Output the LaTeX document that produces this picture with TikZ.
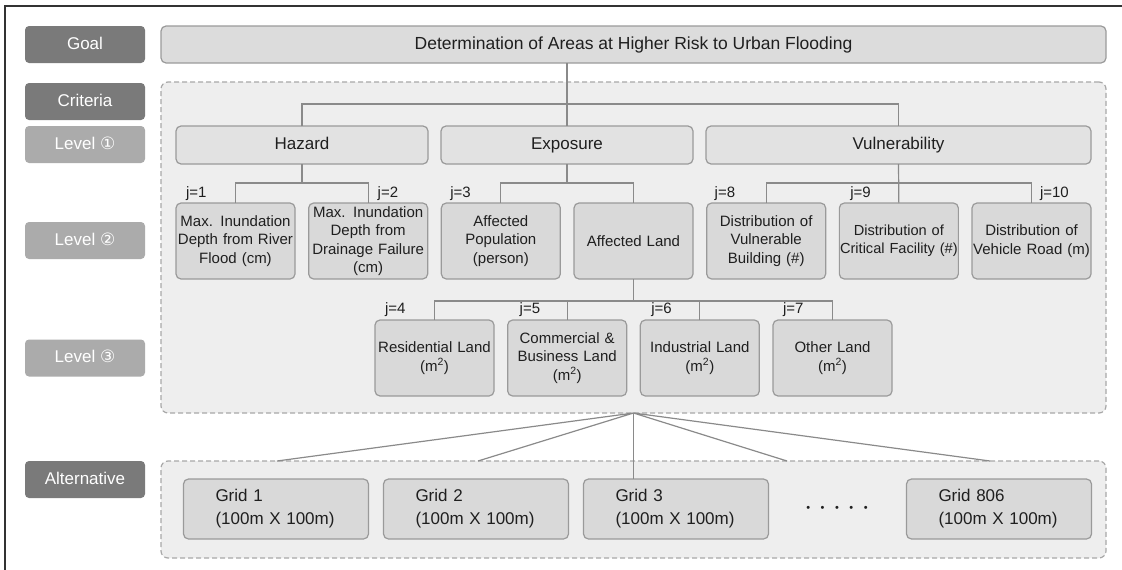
\documentclass[tikz,border=0pt]{standalone}
\usepackage{fontspec}
\setmainfont{Liberation Sans}
\newfontfamily\circfont{DejaVu Sans}
\usepackage{xcolor}
\definecolor{lab_dark}{HTML}{7A7A7A}
\definecolor{lab_light}{HTML}{ABABAB}
\definecolor{box_line}{HTML}{9A9A9A}
\definecolor{box_goal}{HTML}{DCDCDC}
\definecolor{box_mid}{HTML}{E2E2E2}
\definecolor{box_low}{HTML}{D9D9D9}
\definecolor{zone_fill}{HTML}{EEEEEE}
\definecolor{zone_line}{HTML}{A8A8A8}
\definecolor{link_gray}{HTML}{8A8A8A}
\usepackage{tikz}
\usetikzlibrary{positioning,calc}

\begin{document}
\begin{tikzpicture}[
        x=1pt,y=-1pt,
        node distance=13.67pt,
        every node/.style={text=black!88,outer sep=0pt},
        rowlab/.style={rounded corners=4pt,minimum width=120pt,minimum height=37pt,inner sep=0pt,text height=12.5pt,text depth=3.5pt,text=white,font=\fontsize{17}{20}\selectfont},
        darklab/.style={rowlab,fill=lab_dark},
        lightlab/.style={rowlab,fill=lab_light},
        zone/.style={draw=zone_line,fill=zone_fill,dash pattern=on 5pt off 3pt,line width=1.2pt,rounded corners=7pt,inner sep=0pt},
        goalbox/.style={draw=box_line,fill=box_goal,line width=1.2pt,rounded corners=5pt,minimum width=945pt,minimum height=37pt,inner sep=0pt,text height=12.5pt,text depth=3.5pt,font=\fontsize{17.5}{20}\selectfont},
        topbox/.style={draw=box_line,fill=box_mid,line width=1.2pt,rounded corners=5pt,minimum height=38pt,inner sep=0pt,text height=12.5pt,text depth=3.5pt,font=\fontsize{17}{20}\selectfont},
        subbox/.style={draw=box_line,fill=box_low,line width=1.2pt,rounded corners=5pt,text width=119pt,minimum height=76pt,inner sep=0pt,align=center,font=\fontsize{15}{18.3}\selectfont},
        gridbox/.style={draw=box_line,fill=box_low,line width=1.2pt,rounded corners=5pt,minimum height=60pt,text width=121pt,inner xsep=32pt,inner ysep=0pt,align=left,font=\fontsize{17}{23}\selectfont},
        jlab/.style={inner sep=0pt,anchor=base west,font=\fontsize{15}{18}\selectfont},
        conn/.style={draw=link_gray,line width=1.2pt}
    ]
    \useasboundingbox (0,0) rectangle (1122,570);
    % frame
    \draw[line width=2pt,black!80] (5,570) -- (5,6) -- (1122,6);

    % row labels
    \node[darklab] (goallab) at (85,44.5) {Goal};
    \node[darklab] (critlab) at (85,101.5) {Criteria};
    \node[lightlab] (lev1lab) at (85,144.5) {Level {\circfont ①}};
    \node[lightlab] (lev2lab) at (85,240.5) {Level {\circfont ②}};
    \node[lightlab] (lev3lab) at (85,358) {Level {\circfont ③}};
    \node[darklab] (altlab) at (85,479.5) {Alternative};

    % zones
    \node[zone,minimum width=945pt,minimum height=331pt] (crit) at (633.5,247.5) {};
    \node[zone,minimum width=945pt,minimum height=97pt] (alt) at (633.5,509.5) {};

    % goal and level 1
    \node[goalbox] (goal) at (633.5,44.5) {Determination of Areas at Higher Risk to Urban Flooding};
    \node[topbox,minimum width=252pt] (haz) at (302,145) {Hazard};
    \node[topbox,minimum width=252pt] (exp) [right=13pt of haz] {Exposure};
    \node[topbox,minimum width=385pt] (vul) [right=13pt of exp] {Vulnerability};

    % level 2
    \node[subbox] (b1) at (235.5,241) {Max. Inundation\\Depth from River\\Flood (cm)};
    \node[subbox] (b2) [right=of b1] {Max. Inundation\\Depth from\\Drainage Failure\\(cm)};
    \node[subbox] (b3) [right=of b2] {Affected\\Population\\(person)};
    \node[subbox] (b4) [right=of b3] {Affected Land};
    \node[subbox] (b5) [right=of b4] {Distribution of\\Vulnerable\\Building (\#)};
    \node[subbox,font=\fontsize{14.6}{18.3}\selectfont] (b6) [right=of b5] {Distribution of\\Critical Facility (\#)};
    \node[subbox] (b7) [right=of b6] {Distribution of\\Vehicle Road (m)};

    % level 3
    \node[subbox] (c1) at (434.5,358) {Residential Land\\(m\textsuperscript{2})};
    \node[subbox] (c2) [right=of c1] {Commercial \&\\Business Land\\(m\textsuperscript{2})};
    \node[subbox] (c3) [right=of c2] {Industrial Land\\(m\textsuperscript{2})};
    \node[subbox] (c4) [right=of c3] {Other Land\\(m\textsuperscript{2})};

    % j labels
    \node[jlab] (j1) at ([xshift=10pt,yshift=6pt]b1.north west) {j=1};
    \node[jlab] (j2) at ([xshift=69pt,yshift=6pt]b2.north west) {j=2};
    \node[jlab] (j3) at ([xshift=9pt,yshift=6pt]b3.north west) {j=3};
    \node[jlab] (j8) at ([xshift=8pt,yshift=6pt]b5.north west) {j=8};
    \node[jlab] (j9) at ([xshift=11pt,yshift=6pt]b6.north west) {j=9};
    \node[jlab] (j10) at ([xshift=68pt,yshift=6pt]b7.north west) {j=10};
    \node[jlab] (j4) at ([xshift=10pt,yshift=7pt]c1.north west) {j=4};
    \node[jlab] (j5) at ([xshift=12pt,yshift=7pt]c2.north west) {j=5};
    \node[jlab] (j6) at ([xshift=11pt,yshift=7pt]c3.north west) {j=6};
    \node[jlab] (j7) at ([xshift=10pt,yshift=7pt]c4.north west) {j=7};

    % alternatives
    \node[gridbox] (g1) at (276,509) {Grid 1\\(100m X 100m)};
    \node[gridbox] (g2) [right=15pt of g1] {Grid 2\\(100m X 100m)};
    \node[gridbox] (g3) [right=15pt of g2] {Grid 3\\(100m X 100m)};
    \node[gridbox] (g806) at (999,509) {Grid 806\\(100m X 100m)};
    \node[font=\fontsize{11}{12}\selectfont] (dots) at (837,509) {•\hspace{10.5pt}•\hspace{10.5pt}•\hspace{10.5pt}•\hspace{10.5pt}•};

    % connectors
    \draw[conn] (exp.north |- goal.south) -- (exp.north);
    \draw[conn] (haz.north) -- ++(0,-22) -| (vul.north);
    \draw[conn] (haz.south) -- ++(0,19) coordinate (hzj);
    \draw[conn] (b1.north) |- (hzj) -| (b2.north);
    \draw[conn] (exp.south) -- ++(0,19) coordinate (exj);
    \draw[conn] (b3.north) |- (exj) -| (b4.north);
    \draw[conn] (vul.south) -- (b6.north);
    \draw[conn] (b5.north) -- ++(0,-20) -| (b7.north);
    \draw[conn] (b4.south) -- ++(0,22) coordinate (alj);
    \draw[conn] (c1.north) |- (alj) -| (c4.north);
    \draw[conn] (c2.north) -- (c2.north |- alj);
    \draw[conn] (c3.north) -- (c3.north |- alj);

    % fan to alternatives
    \coordinate (f1) at (277,461);
    \coordinate (f2) at (478,461);
    \coordinate (f3) at (787,461);
    \coordinate (f4) at (990,461);
    \draw[conn] (crit.south) -- (crit.south |- g3.north);
    \draw[conn] (crit.south) -- (f1) (crit.south) -- (f2) (crit.south) -- (f3) (crit.south) -- (f4);
\end{tikzpicture}
\end{document}
